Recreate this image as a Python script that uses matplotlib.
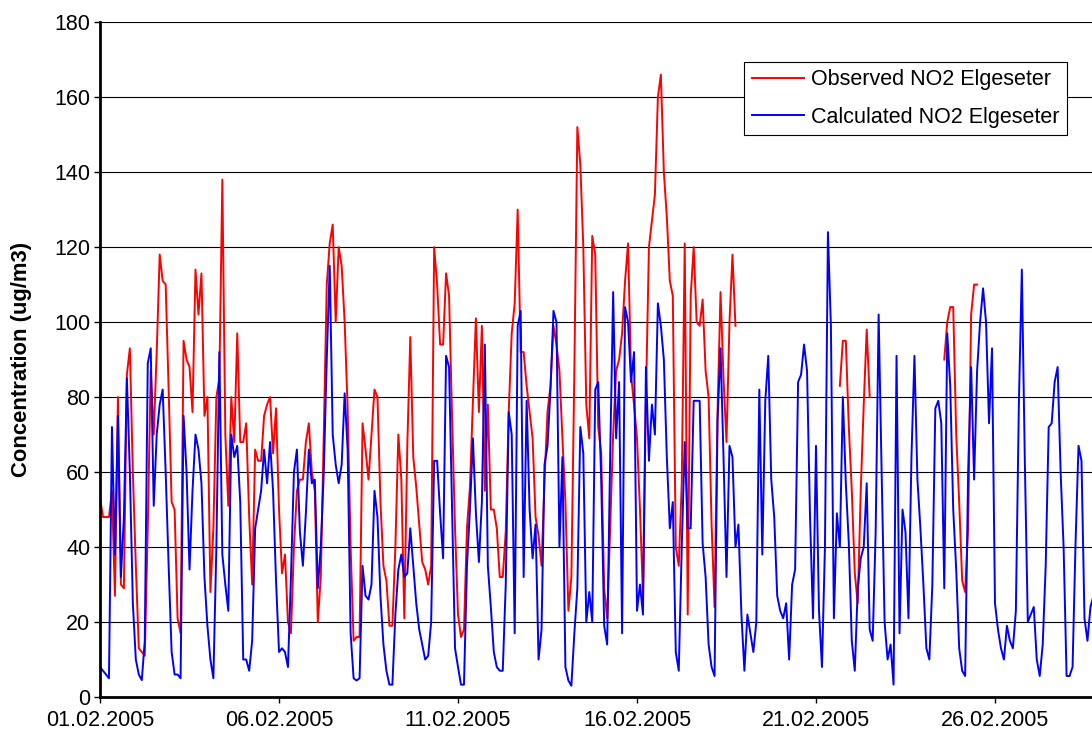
import numpy as np
import pandas as pd
import matplotlib
matplotlib.use('Agg')
import matplotlib.pyplot as plt
import matplotlib.dates as mdates

plt.rcParams['font.family'] = ['Liberation Sans', 'DejaVu Sans']

nan = np.nan

# 2-hourly values, one row per day (01.02 .. 28.02)
observed = [
    53, 48, 48, 48, 55, 27, 80, 30, 29, 86, 93, 60,
    35, 13, 12, 11, 45, 87, 70, 92, 118, 111, 110, 82,
    52, 50, 21, 17, 95, 90, 88, 76, 114, 102, 113, 75,
    80, 28, 45, 80, 85, 138, 70, 51, 80, 68, 97, 68,
    68, 73, 48, 30, 66, 63, 63, 75, 78, 80, 65, 77,
    50, 33, 38, 20, 17, 40, 55, 58, 58, 68, 73, 60,
    55, 20, 32, 70, 110, 121, 126, 100, 120, 115, 100, 77,
    40, 15, 16, 16, 73, 66, 58, 70, 82, 80, 52, 35,
    31, 19, 19, 40, 70, 58, 21, 67, 96, 64, 56, 46,
    36, 34, 30, 35, 120, 110, 94, 94, 113, 107, 75, 45,
    22, 16, 18, 45, 56, 79, 101, 76, 99, 55, 78, 50,
    50, 45, 32, 32, 44, 76, 97, 105, 130, 92, 92, 83,
    76, 69, 48, 43, 35, 58, 76, 83, 99, 94, 87, 69,
    52, 23, 32, 87, 152, 142, 120, 78, 69, 123, 118, 72,
    65, 29, 21, 45, 70, 87, 90, 97, 111, 121, 86, 78,
    69, 50, 27, 80, 120, 127, 134, 160, 166, 140, 128, 111,
    107, 40, 35, 57, 121, 22, 107, 120, 100, 99, 106, 87,
    80, 46, 24, 76, 108, 85, 68, 100, 118, 99, nan, nan,
    nan, nan, nan, nan, nan, nan, nan, nan, nan, nan, nan, nan,
    nan, nan, nan, nan, nan, nan, nan, nan, nan, nan, nan, nan,
    nan, nan, nan, nan, nan, nan, nan, nan, 83, 95, 95, 72,
    55, 33, 25, 55, 78, 98, 80, nan, nan, nan, nan, nan,
    nan, nan, nan, nan, nan, nan, nan, nan, nan, nan, nan, nan,
    nan, nan, nan, nan, nan, nan, nan, 90, 100, 104, 104, 70,
    52, 31, 28, 45, 102, 110, 110, nan, nan, nan, nan, nan,
    nan, nan, nan, nan, nan, nan, nan, nan, nan, nan, nan, nan,
    nan, nan, nan, nan, nan, nan, nan, nan, nan, nan, nan, nan,
    nan, nan, nan, nan, nan, nan, nan, nan, nan, nan,
]

calculated = [
    8, 7, 6, 5, 72, 38, 75, 32, 48, 85, 60, 25,
    10, 6, 4.5, 15, 89, 93, 51, 70, 78, 82, 60, 35,
    12, 6, 6, 5, 75, 60, 34, 55, 70, 66, 57, 32,
    19, 10, 5, 40, 92, 38, 30, 23, 70, 64, 67, 52,
    10, 10, 7, 15, 45, 50, 55, 66, 57, 68, 55, 31,
    12, 13, 12, 8, 32, 60, 66, 44, 35, 49, 66, 57,
    58, 29, 40, 60, 90, 115, 70, 62, 57, 62, 81, 66,
    17, 5, 4.4, 5, 35, 27, 26, 30, 55, 48, 27, 14,
    7, 3.3, 3.3, 22, 34, 38, 32, 33, 45, 35, 25, 18,
    14, 10, 11, 20, 63, 63, 49, 37, 91, 88, 51, 13,
    8, 3.3, 3.3, 35, 50, 69, 49, 36, 52, 94, 35, 24,
    12, 8, 7, 7, 30, 76, 70, 17, 99, 103, 32, 79,
    50, 37, 46, 10, 18, 62, 67, 82, 103, 100, 40, 64,
    8, 4.4, 3, 17, 29, 72, 65, 20, 28, 20, 82, 84,
    58, 19, 14, 64, 108, 69, 84, 17, 104, 100, 84, 92,
    23, 30, 22, 88, 63, 78, 70, 105, 99, 90, 64, 45,
    52, 12, 7, 40, 68, 45, 45, 79, 79, 79, 41, 32,
    14, 8, 5.6, 74, 93, 64, 32, 67, 64, 40, 46, 22,
    7, 22, 17, 12, 20, 82, 38, 79, 91, 58, 48, 27,
    23, 21, 25, 10, 30, 34, 84, 86, 94, 87, 48, 21,
    67, 23, 8, 40, 124, 99, 21, 49, 40, 80, 57, 41,
    15, 7, 29, 37, 40, 57, 18, 15, 44, 102, 60, 20,
    10, 14, 3.3, 91, 17, 50, 44, 21, 64, 91, 58, 45,
    30, 13, 10, 30, 77, 79, 73, 29, 97, 83, 50, 34,
    13, 7, 5.6, 60, 88, 58, 87, 100, 109, 100, 73, 93,
    25, 18, 13, 10, 19, 15, 13, 23, 78, 114, 63, 20,
    22, 24, 10, 5.6, 14, 35, 72, 73, 84, 88, 60, 40,
    5.6, 5.6, 8, 41, 67, 63, 21, 15, 24, 27,
]

start = pd.Timestamp('2005-02-01')
times = pd.date_range(start, periods=len(calculated), freq='2h')
tick_dates = pd.date_range(start, periods=6, freq='5D')

fig = plt.figure(figsize=(10.92, 7.4), dpi=100)
ax = fig.add_axes([0.0916, 0.0581, 0.9084, 0.912])

ax.plot(times, observed, color='#ff0000', lw=1.4, label='Observed NO2 Elgeseter')
ax.plot(times, calculated, color='#0000ff', lw=1.4, label='Calculated NO2 Elgeseter')

ax.set_ylim(0, 180)
ax.set_yticks(range(0, 181, 20))
ax.set_xlim(start, start + pd.Timedelta(days=27.71))
ax.set_xticks(tick_dates)
ax.xaxis.set_major_formatter(mdates.DateFormatter('%d.%m.%Y'))

ax.yaxis.grid(True, color='black', lw=0.8)
ax.set_axisbelow(True)
for s in ['top', 'right']:
    ax.spines[s].set_visible(False)
for s in ['left', 'bottom']:
    ax.spines[s].set_linewidth(2)
    ax.spines[s].set_color('black')

ax.tick_params(axis='both', direction='out', length=4, width=1, labelsize=15.5, pad=3)
ax.tick_params(axis='x', pad=5)

ax.set_ylabel('Concentration (ug/m3)', fontsize=15.8, fontweight='bold')
ax.yaxis.set_label_coords(-0.069, 0.5)

leg = ax.legend(loc='upper right', bbox_to_anchor=(0.975, 0.941), borderaxespad=0,
                fontsize=15.5, frameon=True, fancybox=False, edgecolor='black',
                framealpha=1, handlelength=2.4, handletextpad=0.35,
                borderpad=0.35, labelspacing=0.75)
leg.get_frame().set_linewidth(0.8)

fig.savefig('out.png', dpi=100)
